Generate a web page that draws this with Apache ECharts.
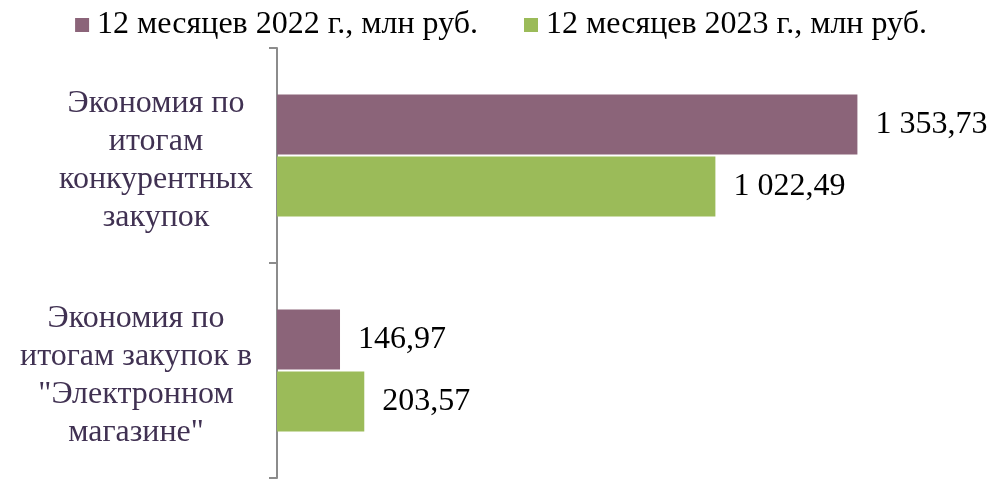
<!DOCTYPE html>
<html>
<head>
<meta charset="utf-8">
<script src="https://cdn.jsdelivr.net/npm/echarts@6/dist/echarts.min.js"></script>
<style>
  html, body { margin: 0; padding: 0; background: #fff; }
  #chart { width: 1002px; height: 479px; }
</style>
</head>
<body>
<div id="chart"></div>
<script>
var categories = [
  "Экономия по\nитогам\nконкурентных\nзакупок",
  "Экономия по\nитогам закупок в\n\"Электронном\nмагазине\""
];
var seriesNames = ["12 месяцев 2022 г., млн руб.", "12 месяцев 2023 г., млн руб."];
var values2022 = [1353.73, 146.97];
var values2023 = [1022.49, 203.57];

function fmt(v) {
  var parts = v.toFixed(2).split(".");
  return parts[0].replace(/\B(?=(\d{3})+(?!\d))/g, " ") + "," + parts[1];
}

var font = "'Liberation Serif', 'Times New Roman', serif";
var myChart = echarts.init(document.getElementById("chart"));

var labelStyle = {
  show: true,
  position: "right",
  distance: 18,
  color: "#000",
  fontFamily: font,
  fontSize: 32,
  formatter: function (p) { return fmt(p.value); }
};

var catText = { color: "#403152", fontFamily: font, fontSize: 32, lineHeight: 38 };

var option = {
  animation: false,
  textStyle: { fontFamily: font },
  legend: {
    top: 4,
    left: "center",
    itemWidth: 14,
    itemHeight: 14,
    itemGap: 46,
    icon: "rect",
    textStyle: { fontFamily: font, fontSize: 32, color: "#000", padding: [0, 0, 0, 3] },
    data: seriesNames
  },
  grid: { left: 277, right: 39, top: 48, bottom: 1, containLabel: false },
  xAxis: {
    type: "value",
    min: 0,
    max: 1600,
    show: false
  },
  yAxis: {
    type: "category",
    inverse: true,
    data: categories,
    axisLine: { show: true, lineStyle: { color: "#8c8c8c", width: 2 } },
    axisTick: { show: true, length: 8, lineStyle: { color: "#8c8c8c", width: 2 } },
    axisLabel: {
      margin: 121,
      align: "center",
      color: "#403152",
      fontFamily: font,
      fontSize: 32,
      lineHeight: 38,
      padding: [10, 0, 0, 0],
      formatter: function (v, i) {
        var tag = i === 1 ? "b" : "a";
        return v.split("\n").map(function (s) { return "{" + tag + "|" + s + "}"; }).join("\n");
      },
      rich: {
        a: catText,
        b: Object.assign({ padding: [0, 40, 0, 0] }, catText)
      }
    }
  },
  series: [
    {
      name: seriesNames[0],
      type: "bar",
      data: values2022,
      barWidth: 60,
      barGap: "3%",
      itemStyle: { color: "#8b6479" },
      label: labelStyle
    },
    {
      name: seriesNames[1],
      type: "bar",
      data: values2023,
      barWidth: 60,
      barGap: "3%",
      itemStyle: { color: "#9bbb59" },
      label: labelStyle
    }
  ]
};
myChart.setOption(option);
</script>
</body>
</html>
